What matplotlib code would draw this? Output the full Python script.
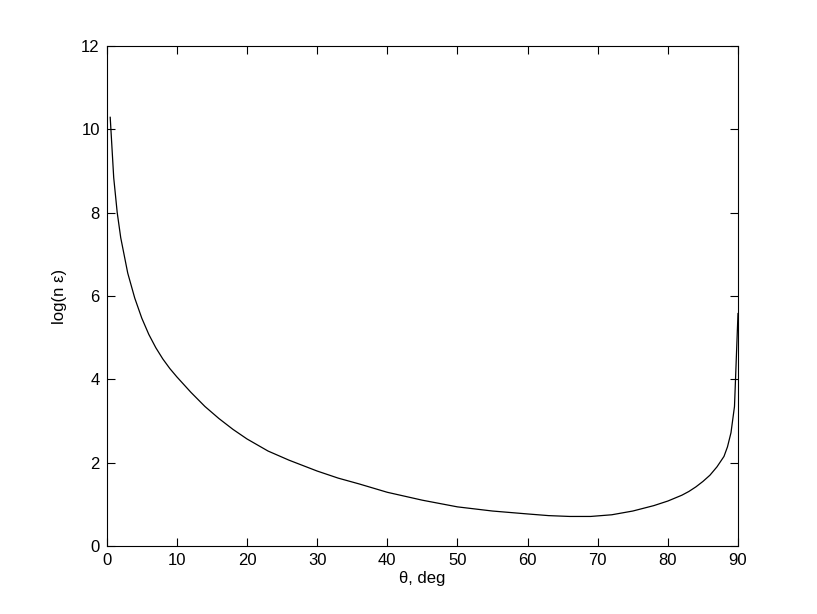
import matplotlib
matplotlib.use("Agg")
import matplotlib.pyplot as plt

theta = [0.5, 1, 1.5, 2, 3, 4, 5, 6, 7, 8, 9, 10, 12, 14, 16, 18, 20, 23, 26, 30,
         33, 36, 40, 45, 50, 55, 60, 63, 66, 69, 72, 75, 78, 80, 82, 83, 84, 85, 86,
         87, 88, 88.5, 89, 89.5, 90]
log_ne = [10.29, 8.84, 8.0, 7.4, 6.55, 5.95, 5.47, 5.08, 4.76, 4.49, 4.26, 4.06, 3.69,
          3.35, 3.06, 2.80, 2.57, 2.28, 2.06, 1.80, 1.63, 1.49, 1.29, 1.10, 0.94, 0.84,
          0.77, 0.73, 0.71, 0.71, 0.75, 0.84, 0.97, 1.08, 1.22, 1.31, 1.42, 1.55, 1.70,
          1.90, 2.15, 2.38, 2.72, 3.35, 5.58]
xticks = [0, 10, 20, 30, 40, 50, 60, 70, 80, 90]
yticks = [0, 2, 4, 6, 8, 10, 12]

plt.rcParams['font.family'] = ['Liberation Sans', 'DejaVu Sans']
fig = plt.figure(figsize=(8.17, 6.14), dpi=100)
ax = fig.add_axes([0.1306, 0.1107, 0.7727, 0.8143])
ax.plot(theta, log_ne, color='black', linewidth=0.9)
ax.set_xlim(0, 90)
ax.set_ylim(0, 12)
ax.set_xticks(xticks)
ax.set_yticks(yticks)
ax.tick_params(direction='in', length=6, width=0.8, top=True, right=True,
               labelsize=12, pad=5, colors='black')
for s in ax.spines.values():
    s.set_linewidth(0.8)
ax.set_xlabel('θ, deg', fontsize=12, labelpad=2)
ax.set_ylabel('log(n ε)', fontsize=12, labelpad=10)
fig.savefig('out.png', dpi=100)
